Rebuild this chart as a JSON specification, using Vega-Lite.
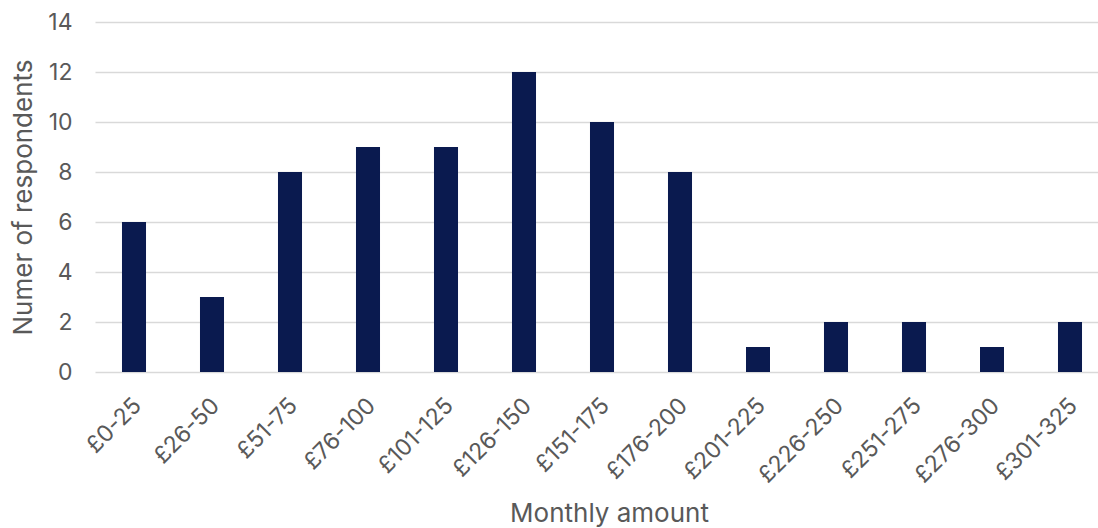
{
  "$schema": "https://vega.github.io/schema/vega-lite/v6.json",
  "autosize": {"type": "none"},
  "width": 1003,
  "height": 350,
  "padding": {"left": 95, "top": 22, "right": 0, "bottom": 156},
  "background": "#ffffff",
  "data": {
    "values": [
      {"band": "£0-25", "count": 6},
      {"band": "£26-50", "count": 3},
      {"band": "£51-75", "count": 8},
      {"band": "£76-100", "count": 9},
      {"band": "£101-125", "count": 9},
      {"band": "£126-150", "count": 12},
      {"band": "£151-175", "count": 10},
      {"band": "£176-200", "count": 8},
      {"band": "£201-225", "count": 1},
      {"band": "£226-250", "count": 2},
      {"band": "£251-275", "count": 2},
      {"band": "£276-300", "count": 1},
      {"band": "£301-325", "count": 2}
    ]
  },
  "mark": {"type": "bar", "color": "#0a1a4f"},
  "encoding": {
    "x": {
      "field": "band",
      "type": "nominal",
      "sort": null,
      "scale": {"range": [0, 1014], "paddingInner": 0.692, "paddingOuter": 0.346},
      "axis": {
        "title": "Monthly amount",
        "titleX": 514,
        "titleY": 149,
        "titleBaseline": "alphabetic",
        "labelAngle": -45,
        "labelAlign": "right",
        "labelBaseline": "top",
        "labelPadding": 22,
        "labelOffset": -4,
        "labelFontSize": 23,
        "domain": false,
        "ticks": false,
        "tickSize": 0,
        "grid": false
      }
    },
    "y": {
      "field": "count",
      "type": "quantitative",
      "scale": {"domain": [0, 14]},
      "axis": {
        "title": "Numer of respondents",
        "values": [0, 2, 4, 6, 8, 10, 12, 14],
        "domain": false,
        "ticks": false,
        "tickSize": 0,
        "labelPadding": 23,
        "labelFontSize": 23,
        "titlePadding": 11,
        "gridColor": "#d9d9d9",
        "gridWidth": 1.5
      }
    }
  },
  "config": {
    "view": {"stroke": null},
    "axis": {
      "labelFont": "Inter",
      "titleFont": "Inter",
      "titleFontSize": 26,
      "labelColor": "#595959",
      "titleColor": "#595959",
      "titleFontWeight": "normal"
    }
  }
}
